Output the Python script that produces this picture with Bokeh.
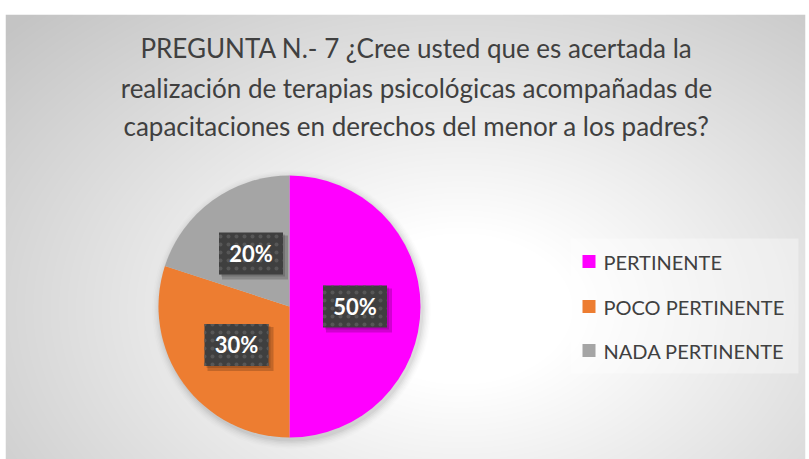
import numpy as np
from bokeh.plotting import figure
from bokeh.models import Range1d, ColumnDataSource
from bokeh.core.properties import value
from bokeh.embed import file_html
from bokeh.resources import INLINE

# ---- data ----
title_lines = [
    "PREGUNTA N.- 7 ¿Cree usted que es acertada la",
    "realización de terapias psicológicas acompañadas de",
    "capacitaciones en derechos del menor a los padres?",
]
categories = ["PERTINENTE", "POCO PERTINENTE", "NADA PERTINENTE"]
values = [50, 30, 20]
labels = ["50%", "30%", "20%"]
colors = ["#FF00FF", "#ED7D31", "#A5A5A5"]

# ---- layout (screen-pixel-like data space) ----
W, H = 800, 445
p = figure(width=809, height=459, output_backend="svg", toolbar_location=None,
           x_range=Range1d(0, W), y_range=Range1d(0, H),
           min_border_left=5, min_border_right=4, min_border_top=14, min_border_bottom=0)
p.axis.visible = False
p.grid.visible = False
p.outline_line_color = None
p.background_fill_color = "white"
p.border_fill_color = "white"

# radial gradient background
yy, xx = np.mgrid[0:H, 0:W]
cx, cy = 455.0, 150.0
d = np.sqrt(((xx - cx) / 560.0) ** 2 + ((yy - cy) / 380.0) ** 2)
t = np.clip((d - 0.2) / 0.9, 0, 1)
v = (255 - 59 * t).astype(np.uint32)
img = (255 << 24) | (v << 16) | (v << 8) | v
p.image_rgba(image=[img.astype(np.uint32)], x=0, y=0, dw=W, dh=H)

# title
p.text(x=[411] * 3, y=[412, 372, 334], text=title_lines, text_align="center",
       text_baseline="middle", text_font=value("Lato"), text_font_size="26px",
       text_color="#404040")

# pie
pcx, pcy, r = 284, 153, 131
for i, a in enumerate([0.035, 0.03, 0.025, 0.02, 0.015, 0.01]):
    p.circle(x=[pcx + 2], y=[pcy - 3], radius=r + 1 + i * 1.5, fill_color="black",
             fill_alpha=a, line_color=None)

vals = np.array(values, dtype=float)
frac = vals / vals.sum()
cum = np.concatenate([[0], np.cumsum(frac)])
starts = np.pi / 2 - 2 * np.pi * cum[:-1]
ends = np.pi / 2 - 2 * np.pi * cum[1:]
src = ColumnDataSource(dict(start=starts, end=ends, color=colors))
p.wedge(x=pcx, y=pcy, radius=r, start_angle="start", end_angle="end",
        direction="clock", fill_color="color", line_color=None, source=src)

# data labels
mid = (starts + ends) / 2
lx = pcx + 0.5 * r * np.cos(mid)
ly = pcy + 0.5 * r * np.sin(mid)
p.rect(x=lx + 4, y=ly - 4, width=66, height=44, fill_color="black", fill_alpha=0.18,
       line_color=None)
p.rect(x=lx + 2, y=ly - 2, width=64, height=42, fill_color="black", fill_alpha=0.15,
       line_color=None)
p.rect(x=lx, y=ly, width=64, height=42, fill_color="#3F3F3F", line_color=None,
       hatch_pattern="dot", hatch_color="#575757", hatch_scale=8, hatch_weight=2)
p.text(x=lx, y=ly, text=labels, text_align="center", text_baseline="middle",
       text_font=value("Lato"), text_font_style="bold", text_font_size="22px",
       text_color="white")

# legend
p.rect(x=[679], y=[153.5], width=228, height=135,
       fill_color="white", fill_alpha=0.35, line_color=None)
leg_y = [198, 153, 109]
p.rect(x=[583.5] * 3, y=leg_y, width=13, height=13, fill_color=colors, line_color=None)
p.text(x=[598] * 3, y=leg_y, text=categories, text_align="left", text_baseline="middle",
       text_font=value("Lato"), text_font_size="20px", text_color="#404040")

open("out.html", "w").write(file_html(p, INLINE))
